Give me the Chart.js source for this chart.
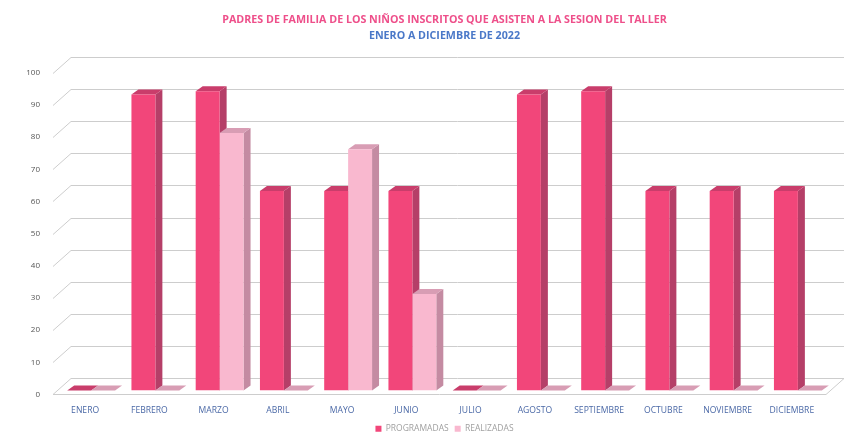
<!DOCTYPE html>
<html>
<head>
<meta charset="utf-8">
<script src="https://cdn.jsdelivr.net/npm/chart.js@4.4.1/dist/chart.umd.min.js"></script>
<style>
  html, body { margin: 0; padding: 0; background: #fff; }
  #wrap { width: 849px; height: 443px; }
</style>
</head>
<body>
<div id="wrap"><canvas id="asistencia"></canvas></div>
<script>
    "use strict";

    // Datos
    var meses = ["ENERO", "FEBRERO", "MARZO", "ABRIL", "MAYO", "JUNIO", "JULIO",
        "AGOSTO", "SEPTIEMBRE", "OCTUBRE", "NOVIEMBRE", "DICIEMBRE"];
    var programadas = [0, 92, 93, 62, 62, 62, 0, 92, 93, 62, 62, 62];
    var realizadas = [0, 0, 80, 0, 75, 30, 0, 0, 0, 0, 0, 0];
    var yTicks = [0, 10, 20, 30, 40, 50, 60, 70, 80, 90, 100];

    // profundidad de las barras (efecto 3D)
    var BAR_DX = 7, BAR_DY = -5;

    var depth3d = {
        id: 'depth3d',
        beforeDatasetsDraw: function (chart) {
            var ctx = chart.ctx, a = chart.chartArea, y = chart.scales.y;
            var y0 = y.getPixelForValue(0);
            ctx.save();
            ctx.lineWidth = 1;
            ctx.strokeStyle = '#cdcdcd';

            // piso
            ctx.beginPath();
            ctx.moveTo(a.left - 6, y0 + 4);
            ctx.lineTo(a.right - 4, y0 + 4);
            ctx.lineTo(a.right + 14, y0 - 12);
            ctx.lineTo(a.left + 12, y0 - 12);
            ctx.closePath();
            ctx.stroke();

            // lineas de la pared
            y.ticks.forEach(function (t) {
                if (t.value === 0) return;
                var py = Math.round(y.getPixelForValue(t.value)) + 0.5;
                ctx.beginPath();
                ctx.moveTo(a.left - 6, py + 4);
                ctx.lineTo(a.left + 12, py - 12);
                ctx.lineTo(a.right + 14, py - 12);
                ctx.stroke();
            });

            // caras laterales y superiores
            chart.data.datasets.forEach(function (ds, i) {
                var meta = chart.getDatasetMeta(i);
                meta.data.forEach(function (bar) {
                    var p = bar.getProps(['x', 'y', 'base', 'width'], true);
                    var l = p.x - p.width / 2, r = p.x + p.width / 2;
                    ctx.fillStyle = ds.sideColor;
                    ctx.beginPath();
                    ctx.moveTo(r, p.y);
                    ctx.lineTo(r + BAR_DX, p.y + BAR_DY);
                    ctx.lineTo(r + BAR_DX, p.base + BAR_DY);
                    ctx.lineTo(r, p.base);
                    ctx.closePath();
                    ctx.fill();
                    ctx.fillStyle = ds.topColor;
                    ctx.beginPath();
                    ctx.moveTo(l, p.y);
                    ctx.lineTo(l + BAR_DX, p.y + BAR_DY);
                    ctx.lineTo(r + BAR_DX, p.y + BAR_DY);
                    ctx.lineTo(r, p.y);
                    ctx.closePath();
                    ctx.fill();
                });
            });
            ctx.restore();
        }
    };

    var ctx1 = document.getElementById("asistencia").getContext("2d");
    var myChart1 = new Chart(ctx1, {
        type: "bar",
        data: {
            labels: meses,
            datasets: [{
                    label: "PROGRAMADAS",
                    data: programadas,
                    backgroundColor: "#f2467a",
                    sideColor: "#b53f68",
                    topColor: "#c93d6b",
                    borderWidth: 0,
                    barPercentage: 1,
                    categoryPercentage: 0.745
                },
                {
                    label: "REALIZADAS",
                    data: realizadas,
                    backgroundColor: "#f9b8cf",
                    sideColor: "#c48ba2",
                    topColor: "#d89db4",
                    borderWidth: 0,
                    barPercentage: 1,
                    categoryPercentage: 0.745
                }
            ]
        },
        plugins: [depth3d],
        options: {
            responsive: true,
            maintainAspectRatio: false,
            animation: false,
            layout: { padding: { left: 0, right: 19, top: 0, bottom: 0 } },
            plugins: {
                title: {
                    display: true,
                    fullSize: false,
                    text: "PADRES DE FAMILIA DE LOS NIÑOS INSCRITOS QUE ASISTEN A LA SESION DEL TALLER",
                    color: "#ee4f8a",
                    font: { family: "'Open Sans'", size: 10.7, weight: "bold" },
                    padding: { top: 14, bottom: 3 }
                },
                subtitle: {
                    display: true,
                    fullSize: false,
                    text: "ENERO A DICIEMBRE DE 2022",
                    color: "#4a78c8",
                    font: { family: "'Open Sans'", size: 10.7, weight: "bold" },
                    padding: { top: 0, bottom: 26 }
                },
                legend: {
                    position: "bottom",
                    fullSize: false,
                    labels: {
                        boxWidth: 6,
                        boxHeight: 6,
                        color: "#a0a0a0",
                        font: { family: "'Open Sans'", size: 8.5 },
                        padding: 6
                    }
                },
                tooltip: { enabled: false }
            },
            scales: {
                x: {
                    grid: { display: false, drawTicks: false },
                    border: { display: false },
                    ticks: {
                        color: "#4a68a6",
                        font: { family: "'Open Sans'", size: 8.6 },
                        labelOffset: -6,
                        padding: 15,
                        maxRotation: 0,
                        autoSkip: false
                    },
                    afterFit: function (scale) { scale.height = 28; }
                },
                y: {
                    min: 0,
                    max: 100,
                    afterBuildTicks: function (scale) {
                        scale.ticks = yTicks.map(function (v) { return { value: v }; });
                    },
                    grid: { display: false, drawTicks: false },
                    border: { display: false },
                    ticks: {
                        color: "#555555",
                        font: { family: "'Open Sans'", size: 8 },
                        labelOffset: 4,
                        padding: 19
                    },
                    afterFit: function (scale) { scale.width = 59; }
                }
            }
        }
    });
</script>
</body>
</html>
